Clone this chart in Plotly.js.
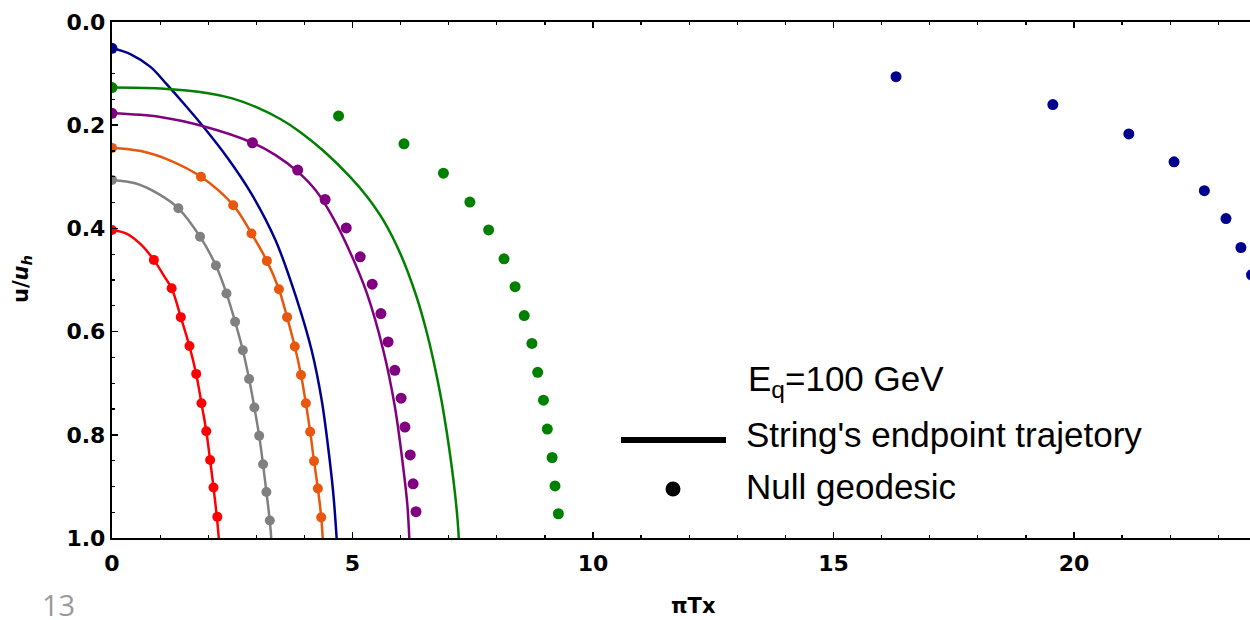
<!DOCTYPE html>
<html>
<head>
<meta charset="utf-8">
<script src="https://cdn.plot.ly/plotly-3.0.1.min.js"></script>
<style>
  html, body { margin: 0; padding: 0; background: #ffffff; overflow: hidden; }
  #chart { width: 1250px; height: 620px; }
</style>
</head>
<body>
<div id="chart"></div>
<script>
// Endpoint trajectories (solid curves) and null geodesics (dots), E_q = 100 GeV.
// x values are πTx, u values are u/u_h.

const redCurveX = [0, 0.3, 0.6, 0.87, 1.1, 1.24, 1.43, 1.61, 1.75, 1.86, 1.96, 2.04, 2.11, 2.18, 2.22];
const redCurveU = [0.403, 0.410, 0.431, 0.461, 0.495, 0.516, 0.572, 0.628, 0.682, 0.739, 0.793, 0.849, 0.902, 0.959, 1.0];
const redDotX = [0, 0.87, 1.24, 1.43, 1.61, 1.75, 1.86, 1.96, 2.04, 2.11, 2.19];
const redDotU = [0.403, 0.461, 0.516, 0.572, 0.628, 0.682, 0.739, 0.793, 0.849, 0.902, 0.959];

const grayCurveX = [0, 0.5, 1.0, 1.38, 1.83, 2.16, 2.38, 2.56, 2.72, 2.85, 2.96, 3.06, 3.14, 3.21, 3.28, 3.31];
const grayCurveU = [0.306, 0.313, 0.335, 0.361, 0.416, 0.472, 0.526, 0.581, 0.636, 0.692, 0.747, 0.802, 0.857, 0.911, 0.966, 1.0];
const grayDotX = [0, 1.38, 1.83, 2.16, 2.38, 2.56, 2.72, 2.85, 2.96, 3.06, 3.14, 3.21, 3.28];
const grayDotU = [0.306, 0.361, 0.416, 0.472, 0.526, 0.581, 0.636, 0.692, 0.747, 0.802, 0.857, 0.911, 0.966];

const orangeCurveX = [0, 0.6, 1.2, 1.85, 2.52, 2.90, 3.22, 3.47, 3.64, 3.80, 3.93, 4.03, 4.12, 4.20, 4.28, 4.35, 4.38];
const orangeCurveU = [0.244, 0.250, 0.268, 0.300, 0.355, 0.410, 0.463, 0.518, 0.572, 0.629, 0.684, 0.739, 0.794, 0.851, 0.904, 0.960, 1.0];
const orangeDotX = [0, 1.85, 2.52, 2.90, 3.22, 3.47, 3.64, 3.80, 3.93, 4.03, 4.12, 4.20, 4.28, 4.35];
const orangeDotU = [0.244, 0.300, 0.355, 0.410, 0.463, 0.518, 0.572, 0.629, 0.684, 0.739, 0.794, 0.851, 0.904, 0.960];

const blueCurveX = [0, 0.4, 0.8, 1.14, 1.5, 1.9, 2.4, 2.9, 3.4, 3.84, 4.15, 4.36, 4.50, 4.60, 4.67];
const blueCurveU = [0.051, 0.063, 0.087, 0.121, 0.159, 0.203, 0.263, 0.333, 0.423, 0.537, 0.636, 0.733, 0.829, 0.913, 1.0];
const blueDotX = [0, 16.30, 19.56, 21.14, 22.08, 22.71, 23.16, 23.47, 23.69];
const blueDotU = [0.051, 0.106, 0.160, 0.217, 0.271, 0.327, 0.381, 0.437, 0.490];

const purpleCurveX = [0, 1.0, 1.9, 2.92, 3.4, 3.86, 4.25, 4.6, 4.95, 5.3, 5.64, 5.88, 6.05, 6.14, 6.18];
const purpleCurveU = [0.177, 0.184, 0.202, 0.234, 0.258, 0.290, 0.328, 0.380, 0.446, 0.526, 0.636, 0.745, 0.860, 0.935, 1.0];
const purpleDotX = [0, 2.92, 3.86, 4.43, 4.87, 5.16, 5.41, 5.59, 5.74, 5.88, 6.01, 6.09, 6.20, 6.26, 6.32];
const purpleDotU = [0.177, 0.234, 0.287, 0.344, 0.399, 0.455, 0.508, 0.565, 0.620, 0.675, 0.729, 0.785, 0.839, 0.895, 0.949];

const greenCurveX = [0, 1.0, 2.0, 2.5, 3.0, 3.5, 3.91, 4.4, 4.95, 5.3, 5.64, 6.0, 6.33, 6.52, 6.68, 6.84, 6.96, 7.06, 7.13, 7.18, 7.21];
const greenCurveU = [0.127, 0.129, 0.138, 0.148, 0.165, 0.188, 0.213, 0.250, 0.300, 0.338, 0.384, 0.450, 0.532, 0.593, 0.655, 0.728, 0.795, 0.860, 0.913, 0.960, 1.0];
const greenDotX = [0, 4.71, 6.07, 6.89, 7.44, 7.83, 8.15, 8.38, 8.57, 8.73, 8.85, 8.97, 9.05, 9.15, 9.21, 9.28];
const greenDotU = [0.127, 0.182, 0.236, 0.293, 0.349, 0.403, 0.459, 0.513, 0.569, 0.623, 0.679, 0.733, 0.789, 0.844, 0.899, 0.953];

const xTickVals = [0, 5, 10, 15, 20];
const yTickVals = [0.0, 0.2, 0.4, 0.6, 0.8, 1.0];

const COLORS = {
  red: '#ff0000',
  gray: '#808080',
  orange: '#e8570e',
  blue: '#00008f',
  purple: '#800080',
  green: '#008000'
};

const series = [
  { c: COLORS.red,    cx: redCurveX,    cu: redCurveU,    dx: redDotX,    du: redDotU,    ms: 10 },
  { c: COLORS.gray,   cx: grayCurveX,   cu: grayCurveU,   dx: grayDotX,   du: grayDotU,   ms: 10 },
  { c: COLORS.orange, cx: orangeCurveX, cu: orangeCurveU, dx: orangeDotX, du: orangeDotU, ms: 10 },
  { c: COLORS.blue,   cx: blueCurveX,   cu: blueCurveU,   dx: blueDotX,   du: blueDotU,   ms: 11 },
  { c: COLORS.purple, cx: purpleCurveX, cu: purpleCurveU, dx: purpleDotX, du: purpleDotU, ms: 11 },
  { c: COLORS.green,  cx: greenCurveX,  cu: greenCurveU,  dx: greenDotX,  du: greenDotU,  ms: 11 }
];

const traces = [];
series.forEach(s => {
  traces.push({
    type: 'scatter', mode: 'lines', x: s.cx, y: s.cu,
    line: { color: s.c, width: 2.5, shape: 'spline', smoothing: 1.0 },
    hoverinfo: 'skip', showlegend: false
  });
});
series.forEach(s => {
  traces.push({
    type: 'scatter', mode: 'markers', x: s.dx, y: s.du,
    marker: { color: s.c, size: s.ms, line: { width: 0 } },
    hoverinfo: 'skip', showlegend: false
  });
});

const tickFont = { family: 'DejaVu Sans', size: 22, color: '#000000', weight: 'bold' };
const titleFont = { family: 'DejaVu Sans', size: 21, color: '#000000', weight: 'bold' };
const legendFont = { family: 'Liberation Sans, Arial, sans-serif', size: 35, color: '#000000' };

// convert plot-area pixel offsets into paper coordinates for titles and the key
const PL = 112, PR = 1250, PT = 22, PB = 538;
const px = v => (v - PL) / (PR - PL);
const py = v => (PB - v) / (PB - PT);

const layout = {
  width: 1250, height: 620,
  margin: { l: PL, r: 1250 - PR, t: PT, b: 620 - PB, pad: 0 },
  paper_bgcolor: '#ffffff', plot_bgcolor: '#ffffff',
  showlegend: false,
  xaxis: {
    range: [0, (PR - PL) / 48.1],
    tickvals: xTickVals,
    ticks: 'inside', ticklen: 6, tickwidth: 1.5, tickcolor: '#000000',
    minor: { dtick: 1, ticks: 'inside', ticklen: 3, tickwidth: 1.2, tickcolor: '#000000' },
    showline: true, linecolor: '#000000', linewidth: 2.2, mirror: 'ticks',
    showgrid: false, zeroline: false,
    tickfont: tickFont, ticklabelstandoff: 4
  },
  yaxis: {
    range: [1.0, 0.0],
    tickvals: yTickVals, tickformat: '.1f',
    ticks: 'inside', ticklen: 6, tickwidth: 1.5, tickcolor: '#000000',
    minor: { dtick: 0.05, ticks: 'inside', ticklen: 3, tickwidth: 1.2, tickcolor: '#000000' },
    showline: true, linecolor: '#000000', linewidth: 2.2, mirror: false,
    showgrid: false, zeroline: false,
    tickfont: tickFont
  },
  shapes: [
    { type: 'line', xref: 'paper', yref: 'paper',
      x0: px(621), x1: px(726), y0: py(440), y1: py(440),
      line: { color: '#000000', width: 6 } },
    { type: 'circle', xref: 'paper', yref: 'paper',
      xsizemode: 'pixel', ysizemode: 'pixel',
      xanchor: px(673), yanchor: py(489),
      x0: -7.5, x1: 7.5, y0: -7.5, y1: 7.5,
      fillcolor: '#000000', line: { width: 0 } }
  ],
  annotations: [
    // axis titles
    { xref: 'paper', yref: 'paper', x: px(693), y: py(606), xanchor: 'center', yanchor: 'middle',
      text: 'πTx', showarrow: false, font: titleFont },
    { xref: 'paper', yref: 'paper', x: px(22), y: py(279), xanchor: 'center', yanchor: 'middle',
      text: 'u/<i>u</i><sub><i>h</i></sub>', textangle: -90, showarrow: false, font: titleFont },
    // key
    { xref: 'paper', yref: 'paper', x: px(746), y: py(381), xanchor: 'left', yanchor: 'middle',
      text: 'E<sub>q</sub>=100 GeV', showarrow: false, font: legendFont },
    { xref: 'paper', yref: 'paper', x: px(744), y: py(434), xanchor: 'left', yanchor: 'middle',
      text: "String's endpoint trajetory", showarrow: false, font: legendFont },
    { xref: 'paper', yref: 'paper', x: px(744), y: py(486), xanchor: 'left', yanchor: 'middle',
      text: 'Null geodesic', showarrow: false, font: legendFont },
    // page number
    { xref: 'paper', yref: 'paper', x: px(58), y: py(604), xanchor: 'center', yanchor: 'middle',
      height: 30, valign: 'middle',
      text: '13', showarrow: false,
      font: { family: 'Open Sans, sans-serif', size: 29, color: '#9a9a9a' } }
  ]
};

Plotly.newPlot('chart', traces, layout, { displayModeBar: false, staticPlot: true });
</script>
</body>
</html>
